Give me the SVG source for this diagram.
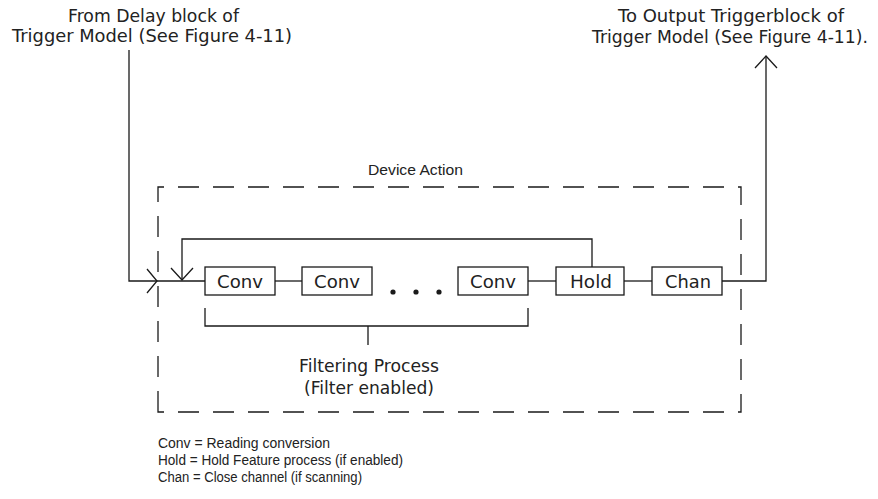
<svg xmlns="http://www.w3.org/2000/svg" width="878" height="499" viewBox="0 0 878 499">
<style>
text{font-family:"DejaVu Sans","Liberation Sans",Arial,sans-serif;font-size:17px;fill:#222}
.c{text-anchor:middle}
.sm{font-family:"Liberation Sans",Arial,sans-serif;font-size:15.5px}
.lg{font-family:"Liberation Sans",Arial,sans-serif;font-size:14px}
.box{fill:#fff;stroke:#1a1a1a;stroke-width:1.3}
.ln{fill:none;stroke:#1a1a1a;stroke-width:1.3}
.dash{fill:none;stroke:#1a1a1a;stroke-width:1.3;stroke-dasharray:21 14}
</style>
<rect width="878" height="499" fill="#fff"/>
<g id="labels">
<text x="153.5" y="22" class="c" textLength="171" lengthAdjust="spacingAndGlyphs">From Delay block of</text>
<text x="152" y="42" class="c" textLength="280" lengthAdjust="spacingAndGlyphs">Trigger Model (See Figure 4-11)</text>
<text x="731" y="22" class="c" textLength="226" lengthAdjust="spacingAndGlyphs">To Output Triggerblock of</text>
<text x="730" y="43" class="c" textLength="276" lengthAdjust="spacingAndGlyphs">Trigger Model (See Figure 4-11).</text>
</g>
<g id="device-action">
<path class="dash" d="M158,412 V187 H741 V412 Z"/>
<text x="368" y="175" class="sm" textLength="95" lengthAdjust="spacingAndGlyphs">Device Action</text>
</g>
<g id="connectors">
<path class="ln" d="M129,50 V281 H205"/>
<path class="ln" d="M147,269 L157,281 L147,293"/>
<path class="ln" d="M592,267 V239 H182 V280"/>
<path class="ln" d="M171,268 L182,280 L193,268"/>
<path class="ln" d="M275,281 H302"/>
<path class="ln" d="M528,281 H556"/>
<path class="ln" d="M624,281 H652"/>
<path class="ln" d="M722,281 H766 V56"/>
<path class="ln" d="M755,68 L766,56 L777,68"/>
<path class="ln" d="M205,308 V326 H528 V308 M368,326 V345"/>
</g>
<g id="conv1"><rect class="box" x="205" y="267" width="70" height="28"/><text x="240" y="287.5" class="c" textLength="46" lengthAdjust="spacingAndGlyphs">Conv</text></g>
<g id="conv2"><rect class="box" x="302" y="267" width="70" height="28"/><text x="337" y="287.5" class="c" textLength="46" lengthAdjust="spacingAndGlyphs">Conv</text></g>
<g id="dots"><circle cx="393" cy="292" r="2.6" fill="#1a1a1a"/><circle cx="416" cy="292" r="2.6" fill="#1a1a1a"/><circle cx="439" cy="292" r="2.6" fill="#1a1a1a"/></g>
<g id="conv3"><rect class="box" x="458" y="267" width="70" height="28"/><text x="493" y="287.5" class="c" textLength="46" lengthAdjust="spacingAndGlyphs">Conv</text></g>
<g id="hold"><rect class="box" x="556" y="267" width="68" height="28"/><text x="591" y="287.5" class="c" textLength="42" lengthAdjust="spacingAndGlyphs">Hold</text></g>
<g id="chan"><rect class="box" x="652" y="267" width="70" height="28"/><text x="688" y="287.5" class="c" textLength="46" lengthAdjust="spacingAndGlyphs">Chan</text></g>
<g id="filtering">
<text x="369" y="372" class="c" textLength="140" lengthAdjust="spacingAndGlyphs">Filtering Process</text>
<text x="369" y="394" class="c" textLength="130" lengthAdjust="spacingAndGlyphs">(Filter enabled)</text>
</g>
<g id="legend">
<text x="158" y="448" class="lg" textLength="172" lengthAdjust="spacingAndGlyphs">Conv = Reading conversion</text>
<text x="158" y="465" class="lg" textLength="245" lengthAdjust="spacingAndGlyphs">Hold = Hold Feature process (if enabled)</text>
<text x="158" y="482" class="lg" textLength="204" lengthAdjust="spacingAndGlyphs">Chan = Close channel (if scanning)</text>
</g>
</svg>
